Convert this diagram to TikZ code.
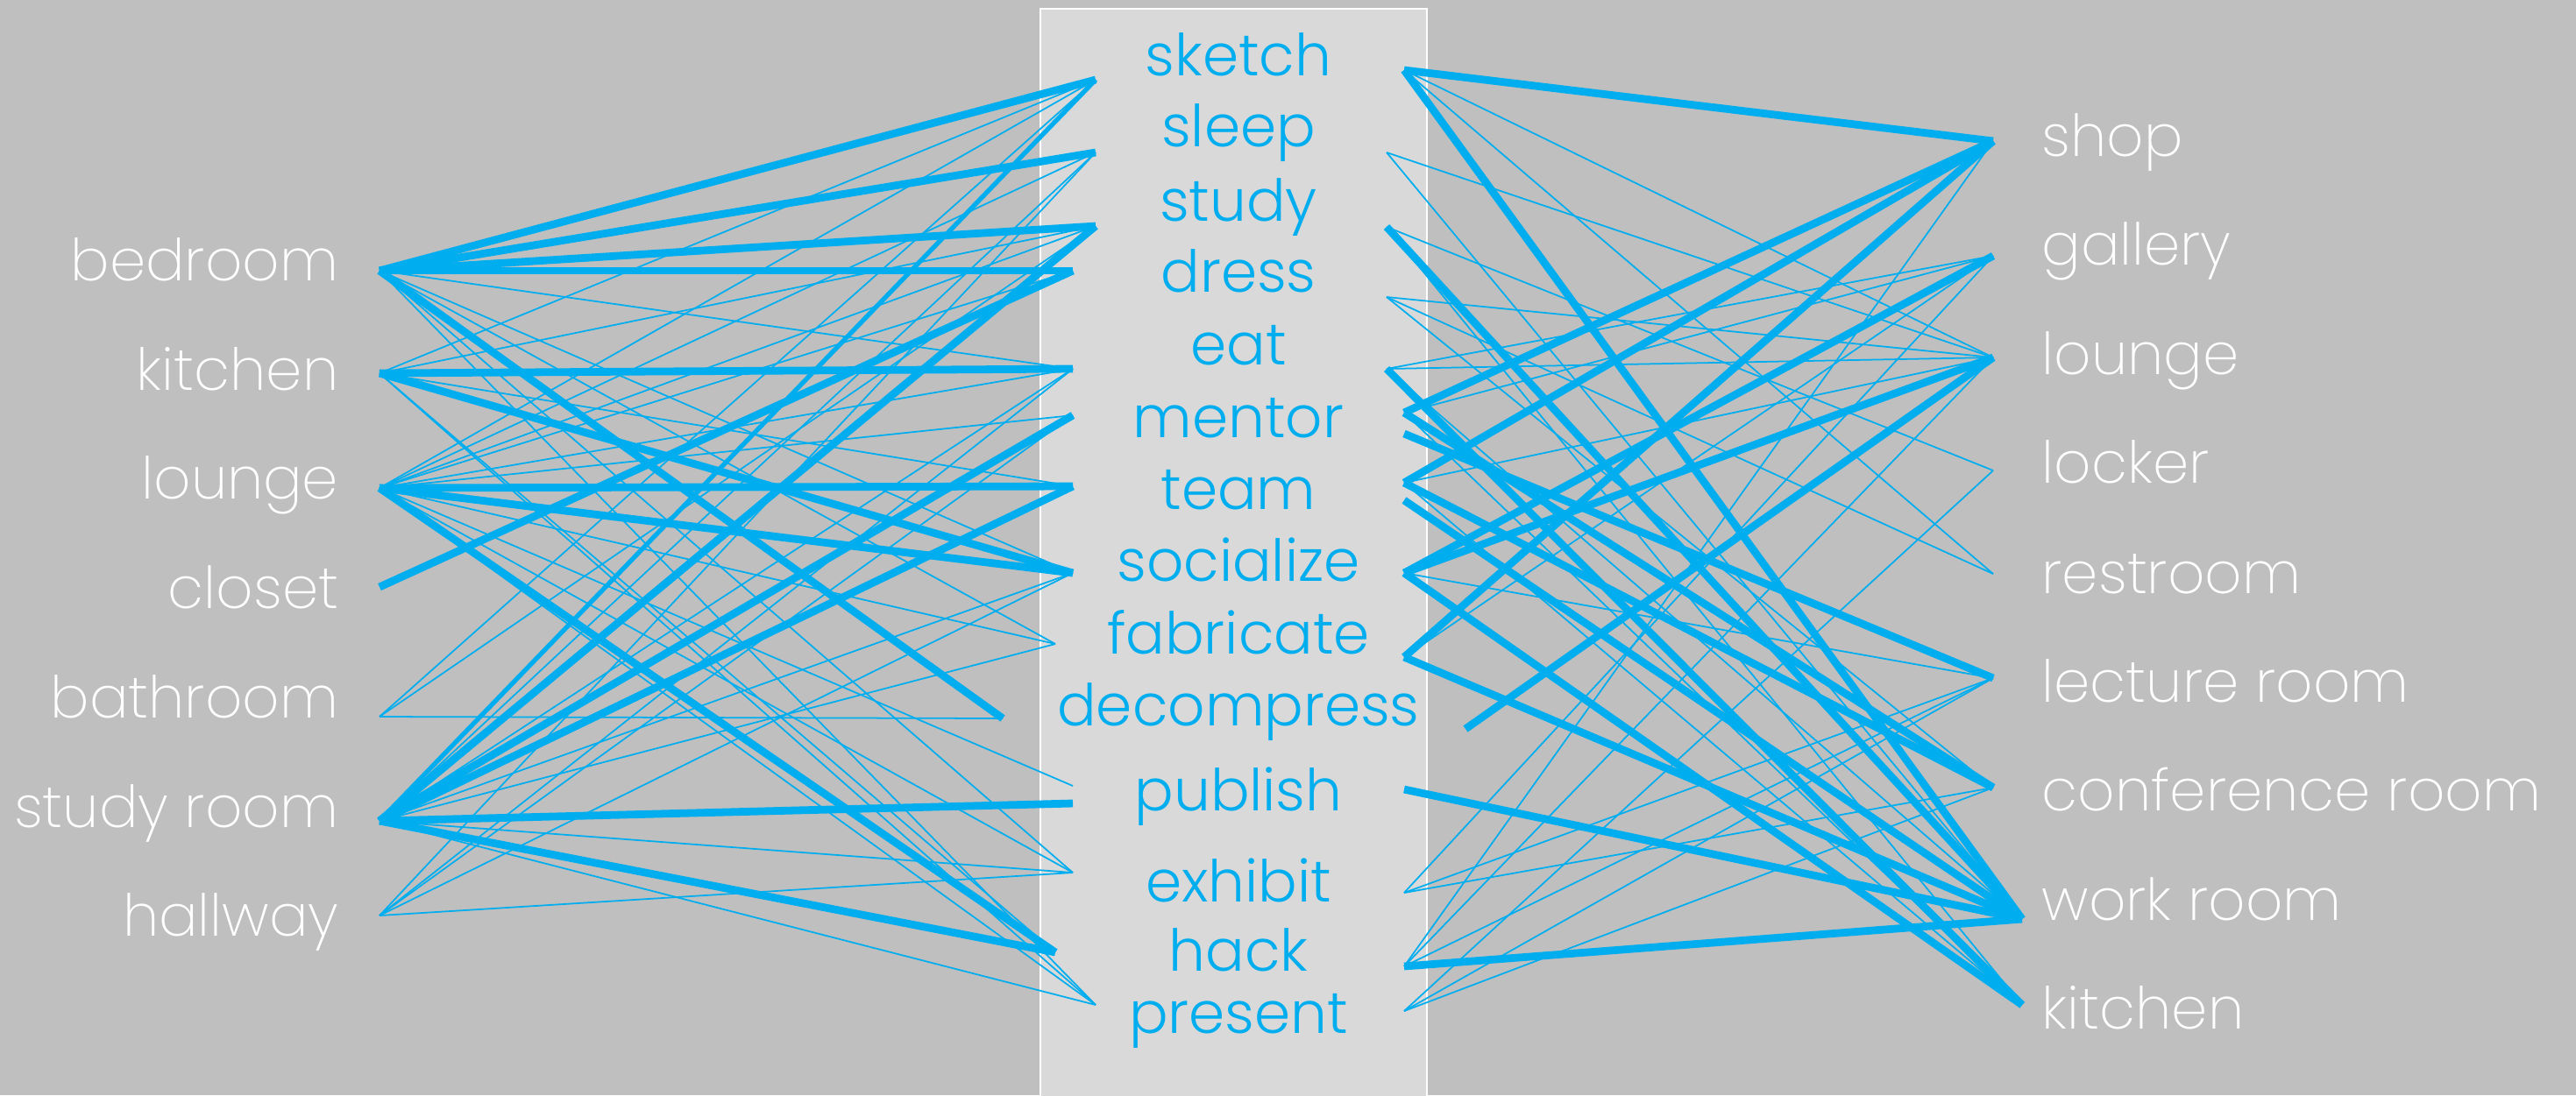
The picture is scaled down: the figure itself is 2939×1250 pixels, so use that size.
\documentclass[tikz,border=0pt]{standalone}
\usepackage{fontspec}
\setmainfont{Poppins Light}
\newfontfamily\thinfont{Poppins ExtraLight}
\definecolor{linkblue}{RGB}{0,174,239}
\definecolor{bggray}{RGB}{191,191,191}
\definecolor{boxgray}{RGB}{217,217,217}

\begin{document}
\begin{tikzpicture}[x=0.01cm,y=-0.01cm,
    room/.style={text=white,inner sep=0pt,font=\thinfont\fontsize{18.8}{20}\selectfont},
    act/.style={text=linkblue,inner sep=0pt,anchor=base,font=\fontsize{18.8}{20}\selectfont},
    tie/.style={draw=linkblue,line width=2.5pt},
    midtie/.style={draw=linkblue,line width=1.5pt},
    link/.style={draw=linkblue,line width=0.5pt}]
    \useasboundingbox (0,0) rectangle (2939,1250);
    \fill[bggray] (0,0) rectangle (2939,1250);
    \draw[white,line width=0.8pt,fill=boxgray] (1187,10) rectangle (1628,1270);

    \foreach \n/\b/\e/\t in {bed/320/309/bedroom, kitL/445/426/kitchen, louL/569/557/lounge, clo/694/670/closet, bath/819/818/bathroom, sroom/944/937/study room, hall/1068/1045/hallway}{
        \node[room,anchor=base east] (\n) at (387,\b) {\t};
        \coordinate (\n-e) at (433,\e);
    }
    \foreach \n/\b/\e/\t in {shop/178/161/shop, gal/302/292/gallery, louR/427/408/lounge, lock/551/537/locker, rest/677/655/restroom, lect/801/774/lecture room, conf/925/899/conference room}{
        \node[room,anchor=base west] (\n) at (2329,\b) {\t};
        \coordinate (\n-e) at (2274,\e);
    }
    \node[room,anchor=base west] (work) at (2329,1050) {work room};
    \coordinate (work-e) at (2307,1049);
    \node[room,anchor=base west] (kitR) at (2329,1174) {kitchen};
    \coordinate (kitR-e) at (2307,1147);

    \foreach \n/\b/\t/\xl/\yl/\xr/\yr in {ske/86/sketch/1250/91/1602/80, sle/167/sleep/1250/174/1582/174, stu/252/study/1250/258/1582/259, dre/333/dress/1224/309/1582/339, eat/416/eat/1224/421/1582/421, men/499/mentor/1224/474/1602/471, tea/581/team/1224/555/1602/551, soc/663/socialize/1224/654/1602/654, fab/746/fabricate/1204/735/1602/750, dec/828/decompress/1144/820/1672/832, pub/925/publish/1224/917/1602/901, exh/1029/exhibit/1224/996/1602/1019, hac/1108/hack/1204/1087/1602/1103, pre/1179/present/1250/1147/1602/1154}{
        \node[act] (\n) at (1413,\b) {\t};
        \coordinate (\n-l) at (\xl,\yl);
        \coordinate (\n-r) at (\xr,\yr);
    }
    \coordinate (pubt-l) at (1224,897);
    \coordinate (men2-r) at (1602,495);
    \coordinate (tea2-r) at (1602,571);

    \foreach \a/\b in {bed/eat, bed/fab, bed/exh, bed/pre, bed/soc, kitL/ske, kitL/stu, kitL/tea, kitL/hac, kitL/pre, louL/ske, louL/sle, louL/stu, louL/dre, louL/eat, louL/men, louL/fab, louL/pubt, louL/exh, louL/pre, bath/ske, bath/stu, bath/dec, sroom/eat, sroom/soc, sroom/fab, sroom/exh, sroom/pre, sroom/sle, hall/sle, hall/eat, hall/men, hall/soc, hall/exh}
        \draw[link] (\a-e) -- (\b-l);
    \foreach \a/\b in {ske/louR, ske/rest, sle/louR, sle/work, stu/lock, stu/kitR, dre/louR, dre/rest, dre/conf, eat/gal, eat/louR, eat/work, men/gal, men/kitR, tea/louR, tea/kitR, soc/lect, fab/gal, exh/gal, exh/lect, exh/conf, hac/shop, hac/lect, hac/louR, pre/lect, pre/conf, pre/lock}
        \draw[link] (\a-r) -- (\b-e);

    \foreach \a/\b in {bed/ske, bed/sle, bed/stu, bed/dre, bed/dec, kitL/eat, kitL/soc, louL/tea, louL/soc, louL/hac, clo/dre, sroom/stu, sroom/men, sroom/tea, sroom/pub, sroom/hac}
        \draw[tie] (\a-e) -- (\b-l);
    \draw[midtie] (sroom-e) -- (ske-l);
    \foreach \a/\b in {ske/shop, ske/work, stu/work, eat/kitR, men/shop, men/conf, men2/lect, tea/shop, tea/conf, tea2/work, soc/gal, soc/louR, soc/kitR, fab/shop, fab/work, dec/louR, pub/work, hac/work}
        \draw[tie] (\a-r) -- (\b-e);
\end{tikzpicture}
\end{document}
